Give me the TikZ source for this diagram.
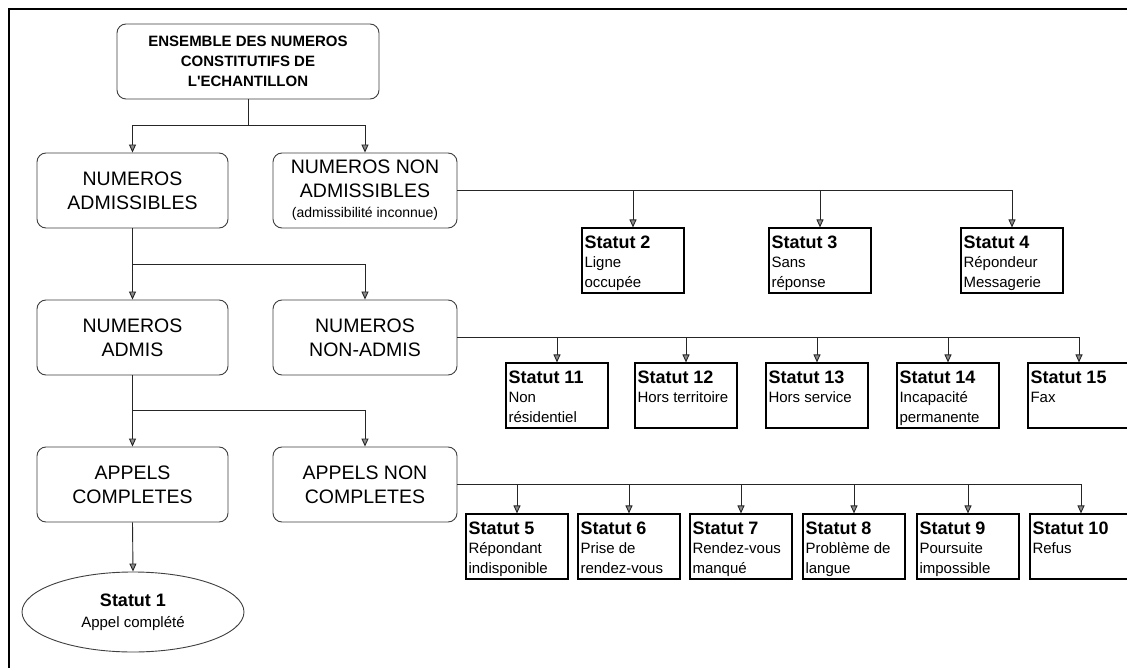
\documentclass[tikz,border=0pt]{standalone}
\usepackage{fontspec}
\setmainfont{Liberation Sans}
\usetikzlibrary{shapes.geometric,arrows.meta}

% status box content: bold title, then up to two lines of description
\newcommand\stat[2]{\parbox[c][59pt][t]{97pt}{\vspace*{4.5pt}{\fontsize{18}{20}\selectfont\bfseries #1\par}\fontsize{15}{19.5}\selectfont #2}}

\tikzset{
  rbox/.style={draw=black!75, line width=0.9pt, rounded corners=9pt, align=center,
    minimum height=75pt, inner sep=2pt, font=\fontsize{19.5}{24}\selectfont},
  statbox/.style={draw=black, line width=1.1pt, inner xsep=2.5pt, inner ysep=3pt},
  conn/.style={draw=black!85, line width=0.9pt},
  arr/.style={conn, -{Triangle[length=8pt,width=7pt,fill=black!45]}},
}

\begin{document}
\begin{tikzpicture}[x=1pt,y=-1pt]
\useasboundingbox (0,0) rectangle (1127,668);
\clip (0,0) rectangle (1127,668);
\fill[white] (0,0) rectangle (1127,668);

% outer frame
\draw[line width=1.3pt] (9,9) rectangle (1160,700);

% main tree
\node[rbox, minimum width=262pt, font=\fontsize{15}{20}\selectfont\bfseries] (top) at (248,61.5)
  {ENSEMBLE DES NUMEROS\\CONSTITUTIFS DE\\L\textquotesingle ECHANTILLON};

\node[rbox, minimum width=191pt] (na)   at (132.5,190.5) {NUMEROS\\ADMISSIBLES};
\node[rbox, minimum width=184pt] (nna)  at (365,190.5)
  {NUMEROS NON\\ADMISSIBLES\\[-4pt]{\fontsize{14}{17}\selectfont (admissibilité inconnue)}};
\node[rbox, minimum width=191pt] (nad)  at (132.5,337.5) {NUMEROS\\ADMIS};
\node[rbox, minimum width=184pt] (nnad) at (365,337.5) {NUMEROS\\NON-ADMIS};
\node[rbox, minimum width=191pt] (ac)   at (132.5,484.5) {APPELS\\COMPLETES};
\node[rbox, minimum width=184pt] (anc)  at (365,484.5) {APPELS NON\\COMPLETES};

\node[ellipse, draw=black!75, line width=0.9pt, minimum width=222pt, minimum height=80pt,
  inner sep=0pt, align=center, font=\fontsize{15}{21}\selectfont] (s1) at (133,612)
  {{\fontsize{18}{21}\selectfont\bfseries Statut 1}\\Appel complété};

% status boxes of the non-admissible numbers
\node[statbox] (s2) at (633,260.5) {\stat{Statut 2}{Ligne\\occupée}};
\node[statbox] (s3) at (820,260.5) {\stat{Statut 3}{Sans\\réponse}};
\node[statbox] (s4) at (1012,260.5) {\stat{Statut 4}{Répondeur\\Messagerie}};

% status boxes of the non-admitted numbers
\node[statbox] (s11) at (557,395.5) {\stat{Statut 11}{Non\\résidentiel}};
\node[statbox] (s12) at (686,395.5) {\stat{Statut 12}{Hors territoire}};
\node[statbox] (s13) at (817,395.5) {\stat{Statut 13}{Hors service}};
\node[statbox] (s14) at (948,395.5) {\stat{Statut 14}{Incapacité\\permanente}};
\node[statbox] (s15) at (1079,395.5) {\stat{Statut 15}{Fax}};

% status boxes of the incomplete calls
\node[statbox] (s5)  at (517,546.5) {\stat{Statut 5}{Répondant\\indisponible}};
\node[statbox] (s6)  at (629,546.5) {\stat{Statut 6}{Prise de\\rendez-vous}};
\node[statbox] (s7)  at (741,546.5) {\stat{Statut 7}{Rendez-vous\\manqué}};
\node[statbox] (s8)  at (854,546.5) {\stat{Statut 8}{Problème de\\langue}};
\node[statbox] (s9)  at (968,546.5) {\stat{Statut 9}{Poursuite\\impossible}};
\node[statbox] (s10) at (1081,546.5) {\stat{Statut 10}{Refus}};

% junctions
\coordinate (j1) at (248,125);
\coordinate (j2) at (132.5,264);
\coordinate (j3) at (132.5,410);

% tree connectors
\draw[conn] (top.south) -- (j1);
\draw[arr] (j1) -| (na.north);
\draw[arr] (j1) -| (nna.north);

\draw[arr] (na.south) -- (nad.north);
\draw[arr] (j2) -| (nnad.north);

\draw[arr] (nad.south) -- (ac.north);
\draw[arr] (j3) -| (anc.north);

\draw[arr] (ac.south) -- (s1.north);

% branches to status boxes
\draw[arr] (nna.east) -| (s4.north);
\draw[arr] (nna.east -| s2.north) -- (s2.north);
\draw[arr] (nna.east -| s3.north) -- (s3.north);

\draw[arr] (nnad.east) -| (s15.north);
\foreach \s in {s11,s12,s13,s14}
  \draw[arr] (nnad.east -| \s.north) -- (\s.north);

\draw[arr] (anc.east) -| (s10.north);
\foreach \s in {s5,s6,s7,s8,s9}
  \draw[arr] (anc.east -| \s.north) -- (\s.north);
\end{tikzpicture}
\end{document}
